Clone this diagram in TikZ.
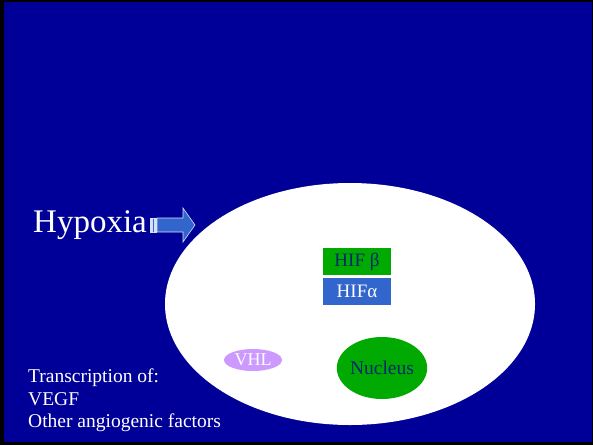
\documentclass[tikz,border=0pt]{standalone}
\usepackage{fontspec}
\setmainfont{Liberation Serif}
\definecolor{bgblue}{RGB}{0,0,153}
\definecolor{arrowblue}{RGB}{51,102,204}
\definecolor{hifgreen}{RGB}{0,170,0}
\definecolor{darktext}{RGB}{0,40,110}
\definecolor{lavender}{RGB}{204,153,255}
\tikzset{
  whitetext/.style={text=white, inner sep=0pt, anchor=base west},
  hifbox/.style={minimum width=68pt, minimum height=27pt, inner sep=0pt, font=\fontsize{19}{19}\selectfont},
  blob/.style={ellipse, inner sep=0pt},
}
\usetikzlibrary{shapes.geometric}
\begin{document}
\begin{tikzpicture}[x=1pt,y=-1pt]
\useasboundingbox (0,0) rectangle (593,445);
% frame and background
\fill[black] (0,0) rectangle (593,445);
\fill[bgblue] (4,2) rectangle (592,442);
% cell
\node[blob, fill=white, minimum width=370pt, minimum height=242pt] (cell) at (350,304) {};
% Hypoxia
\node[whitetext, font=\fontsize{33}{33}\selectfont] (hypoxia) at (33,232) {Hypoxia};
% block arrow
\filldraw[fill=arrowblue, draw=white!80!arrowblue, line width=0.6pt]
  (157,218) -- (183,218) -- (183,208) -- (195,225) -- (183,242) -- (183,232) -- (157,232) -- cycle;
\foreach \sx in {150,152.5,155}
  \filldraw[fill=arrowblue, draw=white!80!arrowblue, line width=0.5pt] (\sx,218) rectangle (\sx+1.5,232);
\coordinate (arrowtip) at (195,225);
% HIF boxes
\node[hifbox, fill=hifgreen, text=darktext] (hifb) at (357,261.5) {HIF β};
\node[hifbox, fill=arrowblue, text=white] (hifa) at (357,291.5) {HIFα};
% VHL
\node[blob, fill=lavender, text=white, minimum width=58pt, minimum height=22pt, font=\fontsize{18}{18}\selectfont] (vhl) at (253,360) {VHL};
% Nucleus
\node[blob, fill=hifgreen, text=darktext, minimum width=88pt, minimum height=62pt, font=\fontsize{19.5}{19.5}\selectfont] (nucleus) at (382,368) {Nucleus};
% bottom text
\node[whitetext, font=\fontsize{19.5}{19.5}\selectfont] (t1) at (28,382) {Transcription of:};
\node[whitetext, font=\fontsize{19.5}{19.5}\selectfont] (t2) at (28,405) {VEGF};
\node[whitetext, font=\fontsize{19.5}{19.5}\selectfont] (t3) at (28,427.5) {Other angiogenic factors};
\end{tikzpicture}
\end{document}
